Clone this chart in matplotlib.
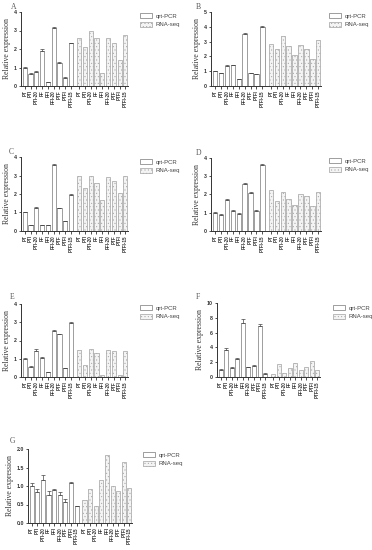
import matplotlib
matplotlib.use("Agg")
import matplotlib.pyplot as plt
from matplotlib.patches import Patch
import numpy as np

categories = ["PT", "PTI", "PTI-20", "PF", "PFI", "PFI-20", "PTF", "PTFI", "PTFI-15"]

A_qpcr = [1.0, 0.65, 0.78, 1.9, 0.2, 3.15, 1.25, 0.45, 2.3]
A_err = [0.05, 0.03, 0.04, 0.08, 0.02, 0.05, 0.03, 0.02, 0.04]
A_rna = [2.62, 2.12, 3.0, 2.62, 0.72, 2.6, 2.3, 1.4, 2.78]

B_qpcr = [1.0, 0.85, 1.37, 1.4, 0.45, 3.5, 0.88, 0.8, 4.0]
B_err = [0.04, 0.03, 0.04, 0.04, 0.02, 0.05, 0.03, 0.03, 0.06]
B_rna = [2.86, 2.48, 3.35, 2.72, 2.07, 2.77, 2.5, 1.85, 3.08]

C_qpcr = [1.0, 0.3, 1.25, 0.32, 0.3, 3.55, 1.22, 0.52, 1.97]
C_err = [0.04, 0.02, 0.04, 0.02, 0.02, 0.06, 0.03, 0.02, 0.05]
C_rna = [2.97, 2.35, 2.98, 2.58, 1.7, 2.9, 2.68, 2.05, 2.98]

D_qpcr = [1.0, 0.9, 1.7, 1.1, 0.95, 2.58, 2.08, 1.1, 3.62]
D_err = [0.03, 0.03, 0.06, 0.03, 0.04, 0.04, 0.03, 0.03, 0.06]
D_rna = [2.22, 1.62, 2.15, 1.78, 1.42, 2.02, 1.92, 1.38, 2.15]

E_qpcr = [1.0, 0.55, 1.45, 1.05, 0.28, 2.52, 2.33, 0.47, 2.95]
E_err = [0.04, 0.03, 0.07, 0.03, 0.02, 0.04, 0.03, 0.02, 0.07]
E_rna = [1.5, 0.68, 1.52, 1.32, 0.12, 1.5, 1.45, 0.13, 1.4]

F_qpcr = [1.0, 3.7, 1.25, 2.45, 7.35, 1.3, 1.55, 6.9, 0.45]
F_err = [0.05, 0.2, 0.05, 0.08, 0.45, 0.04, 0.04, 0.2, 0.04]
F_rna = [0.35, 1.7, 0.5, 1.15, 1.85, 1.0, 1.4, 2.15, 1.0]

G_qpcr = [1.0, 0.85, 1.15, 0.77, 0.88, 0.77, 0.57, 1.07, 0.46]
G_err = [0.07, 0.08, 0.14, 0.1, 0.04, 0.06, 0.08, 0.03, 0.01]
G_rna = [0.63, 0.93, 0.46, 1.15, 1.83, 1.0, 0.87, 1.65, 0.94]

legend_labels = ["qrt-PCR", "RNA-seq"]

W, H = 372, 550
plt.rcParams['hatch.linewidth'] = 0.3
fig = plt.figure(figsize=(W / 100, H / 100), dpi=100)
fig.patch.set_facecolor("white")

EDGE = "#777777"
EDGE2 = "#a0a0a0"
GAP = 9.4


def px_rect(x0, y0, x1, y1):
    return [x0 / W, 1 - y1 / H, (x1 - x0) / W, (y1 - y0) / H]


def panel(letter, rect, qpcr, err, rna, ymax, yticks, fmt, leg_xy, letter_xy):
    ax = fig.add_axes(px_rect(*rect))
    n = len(categories)
    x1 = np.arange(n)
    x2 = np.arange(n) + GAP
    ax.bar(x1, qpcr, width=0.72, color="white", edgecolor=EDGE, linewidth=0.5, zorder=2)
    ax.errorbar(x1, qpcr, yerr=[np.zeros(n), err], fmt="none", ecolor="#444444",
                elinewidth=0.5, capsize=1.2, capthick=0.5, zorder=3)
    ax.bar(x2, rna, width=0.72, color="#f4f4f4", edgecolor=EDGE2, hatch=".....",
           linewidth=0.5, zorder=2)
    ax.set_xlim(-0.65, GAP + n - 1 + 0.45)
    ax.set_ylim(0, ymax)
    ax.set_yticks(yticks)
    ax.set_yticklabels([fmt % v for v in yticks], fontsize=3.8, fontweight="bold",
                       family="Liberation Sans")
    ax.set_xticks(list(x1) + list(x2))
    ax.set_xticklabels(categories + categories, rotation=90, fontsize=3.3,
                       fontweight="bold", family="Liberation Sans")
    for s in ["top", "right"]:
        ax.spines[s].set_visible(False)
    for s in ["left", "bottom"]:
        ax.spines[s].set_linewidth(0.7)
        ax.spines[s].set_color("#333333")
    ax.tick_params(axis="both", length=1.8, width=0.6, pad=1.2, colors="#333333")
    ax.set_ylabel("Relative expression", family="Liberation Serif", fontsize=5.6,
                  labelpad=2, color="#333333")
    fig.text(letter_xy[0] / W, 1 - letter_xy[1] / H, letter, family="Liberation Serif",
             fontsize=5.5, color="#555555", ha="left", va="top")
    handles = [Patch(facecolor="white", edgecolor=EDGE, linewidth=0.5),
               Patch(facecolor="#f4f4f4", edgecolor=EDGE2, hatch=".....", linewidth=0.5)]
    fig.legend(handles, legend_labels, loc="upper left",
               bbox_to_anchor=(leg_xy[0] / W, 1 - leg_xy[1] / H), frameon=False,
               prop={"family": "Liberation Sans", "size": 4.3}, handlelength=2.0,
               handleheight=0.9, handletextpad=0.6, labelspacing=0.55, borderpad=0,
               borderaxespad=0, labelcolor="#444444")
    return ax


panel("A", (21, 12, 128, 86), A_qpcr, A_err, A_rna, 4, [0, 1, 2, 3, 4], "%d", (140, 13), (11, 3))
panel("B", (211, 12, 321, 86), B_qpcr, B_err, B_rna, 5, [0, 1, 2, 3, 4, 5], "%d", (329, 13), (196, 3))
panel("C", (21, 157, 128, 231), C_qpcr, C_err, C_rna, 4, [0, 1, 2, 3, 4], "%d", (140, 159), (9, 148))
panel("D", (211, 158, 321, 231), D_qpcr, D_err, D_rna, 4, [0, 1, 2, 3, 4], "%d", (329, 158), (196, 149))
panel("E", (21, 304, 128, 377), E_qpcr, E_err, E_rna, 4, [0, 1, 2, 3, 4], "%d", (140, 305), (10, 293))
panel("F", (217, 303, 320, 377), F_qpcr, F_err, F_rna, 10, [0, 2, 4, 6, 8, 10], "%d", (333, 305), (196, 293))
panel("G", (28, 449, 132, 523), G_qpcr, G_err, G_rna, 2.0, [0.0, 0.5, 1.0, 1.5, 2.0], "%.1f", (143, 452), (10, 437))

fig.savefig("out.png", dpi=100, facecolor="white")
